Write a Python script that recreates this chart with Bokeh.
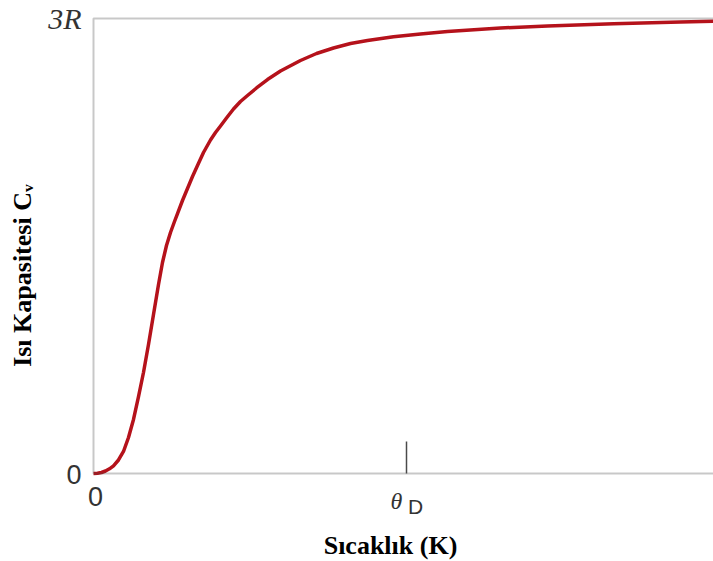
import math
from bokeh.plotting import figure
from bokeh.models import Range1d, Label, BoxAnnotation
from bokeh.embed import file_html
from bokeh.resources import INLINE

# Temperature in units of the Debye temperature (T / θ_D)
temperature = [0.0, 0.0128, 0.0256, 0.0383, 0.0511, 0.0639, 0.0799, 0.0958, 0.1118, 0.1278,
               0.1438, 0.1597, 0.1757, 0.1917, 0.2077, 0.2204, 0.2332, 0.2460, 0.2588, 0.2684,
               0.2843, 0.3003, 0.3163, 0.3323, 0.3514, 0.3738, 0.3898, 0.4058, 0.4249, 0.4473,
               0.4696, 0.4920, 0.5208, 0.5559, 0.5974, 0.6613, 0.7125, 0.7668, 0.8211, 0.8754,
               0.9585, 1.0447, 1.1310, 1.3003, 1.4505, 1.6613, 1.8754, 1.9808]
# Heat capacity as a fraction of 3R
heat_capacity = [0.0, 0.0004, 0.0022, 0.0055, 0.0103, 0.0169, 0.0297, 0.0484, 0.0791, 0.1187,
                 0.1692, 0.2220, 0.2835, 0.3495, 0.4154, 0.4637, 0.5011, 0.5297, 0.5538, 0.5714,
                 0.6000, 0.6264, 0.6527, 0.6769, 0.7055, 0.7330, 0.7495, 0.7637, 0.7813, 0.8011,
                 0.8176, 0.8308, 0.8473, 0.8659, 0.8846, 0.9077, 0.9231, 0.9352, 0.9451, 0.9516,
                 0.9598, 0.9659, 0.9714, 0.9791, 0.9835, 0.9884, 0.9921, 0.9938]

theta_D = 1.0
y_tick_values = [0, 1]
y_tick_labels = ["0", "3R"]
x_tick_values = [0, theta_D]
x_tick_labels = ["0", "\u03b8", "D"]
x_title = "Sıcaklık (K)"
y_title = "Isı Kapasitesi C\u1d65"

AXIS = "#4a4a4a"
TXT = "#333333"

# the frame covers the whole canvas; the axes are drawn inside it
W, H = 713, 561
LEFT, TOP, BOTTOM = 93, 18, 473
px_per_x = 313.0          # pixels per θ_D
px_per_y = BOTTOM - TOP   # pixels per 3R
x0 = -LEFT / px_per_x
x1 = (W - LEFT) / px_per_x
y0 = -(H - BOTTOM) / px_per_y
y1 = BOTTOM / px_per_y

p = figure(width=W, height=H, output_backend="svg", toolbar_location=None,
           x_range=Range1d(x0, x1), y_range=Range1d(y0, y1),
           min_border=0, min_border_left=0, min_border_right=0,
           min_border_top=0, min_border_bottom=0)
p.outline_line_color = None
p.xaxis.visible = False
p.yaxis.visible = False
p.xgrid.visible = False
p.ygrid.visible = False
p.background_fill_color = "white"
p.border_fill_color = "white"

# frame: left, top and bottom edges (right edge lies beyond the window)
p.add_layout(BoxAnnotation(left=0, right=x1 + 0.2, bottom=y_tick_values[0], top=y_tick_values[1],
                           fill_alpha=0, line_color=AXIS, line_width=2))

# θ_D tick mark pointing into the plot
tick_len = 32 / px_per_y
p.segment(x0=[theta_D], y0=[0], x1=[theta_D], y1=[tick_len], line_color=AXIS, line_width=1.5)

p.line(temperature, heat_capacity, line_color="#b5121b", line_width=3.5, line_join="round")

# y tick labels
p.add_layout(Label(x=0, y=y_tick_values[0], text=y_tick_labels[0], x_offset=-12, y_offset=-1,
                   text_align="right", text_baseline="middle", text_font="Liberation Sans",
                   text_font_size="27px", text_color=TXT))
p.add_layout(Label(x=0, y=y_tick_values[1], text=y_tick_labels[1], x_offset=-12, y_offset=0,
                   text_align="right", text_baseline="middle", text_font="Liberation Serif",
                   text_font_style="italic", text_font_size="30px", text_color=TXT))
# x tick labels
p.add_layout(Label(x=x_tick_values[0], y=0, text=x_tick_labels[0], x_offset=2, y_offset=-23,
                   text_align="center", text_baseline="middle", text_font="Liberation Sans",
                   text_font_size="27px", text_color=TXT))
p.add_layout(Label(x=x_tick_values[1], y=0, text=x_tick_labels[1], x_offset=-10, y_offset=-27,
                   text_align="center", text_baseline="middle", text_font="Liberation Serif",
                   text_font_style="italic", text_font_size="24px", text_color=TXT))
p.add_layout(Label(x=x_tick_values[1], y=0, text=x_tick_labels[2], x_offset=9, y_offset=-33,
                   text_align="center", text_baseline="middle", text_font="Liberation Sans",
                   text_font_size="21px", text_color=TXT))

# axis titles
p.add_layout(Label(x=theta_D, y=0, text=x_title, x_offset=-16, y_offset=-72,
                   text_align="center", text_baseline="middle", text_font="Liberation Serif",
                   text_font_style="bold", text_font_size="26px", text_color="black"))
p.add_layout(Label(x=0, y=0.435, text=y_title, x_offset=-71, y_offset=0, angle=math.pi / 2,
                   text_align="center", text_baseline="middle", text_font="Liberation Serif",
                   text_font_style="bold", text_font_size="26px", text_color="black"))

open("out.html", "w").write(file_html(p, INLINE))
